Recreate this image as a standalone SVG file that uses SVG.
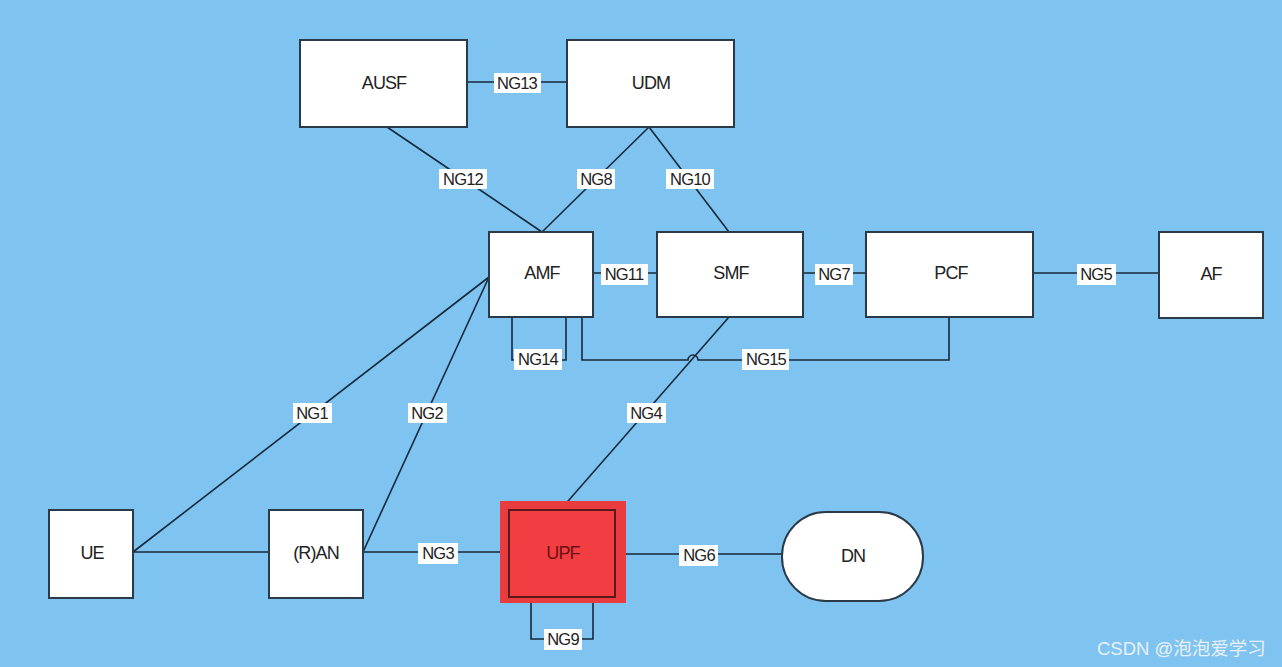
<svg xmlns="http://www.w3.org/2000/svg" width="1282" height="667" viewBox="0 0 1282 667">
<style>
.bg{fill:#7FC4F0}
.box{fill:#FFFFFF;stroke:#2B3A48;stroke-width:2}
.nt{font-family:"Liberation Sans",Arial,sans-serif;font-size:18px;fill:#222;text-anchor:middle;dominant-baseline:central;letter-spacing:-0.9px}
.ln{fill:none;stroke:#16283A;stroke-width:1.6}
.lb{fill:#FFFFFF}
.lt{font-family:"Liberation Sans",Arial,sans-serif;font-size:16.5px;fill:#222;text-anchor:middle;dominant-baseline:central;letter-spacing:-0.8px}
.wm{font-family:"Liberation Sans","Noto Sans CJK SC",sans-serif;font-size:18.5px;fill:#E8F0F6;text-anchor:start;dominant-baseline:central}
</style>
<rect class="bg" x="0" y="0" width="1282" height="667"/>

<g id="connectors">
<line class="ln" x1="467" y1="82" x2="567" y2="82"/>
<line class="ln" x1="387" y1="127" x2="542" y2="232"/>
<line class="ln" x1="649" y1="127" x2="542" y2="232"/>
<line class="ln" x1="649" y1="127" x2="729" y2="232"/>
<line class="ln" x1="593" y1="273" x2="657" y2="273"/>
<line class="ln" x1="803" y1="273" x2="866" y2="273"/>
<line class="ln" x1="1033" y1="273" x2="1159" y2="273"/>
<path class="ln" d="M512,317 V360 H566 V317"/>
<path class="ln" d="M582,317 V360 H688 A5,5 0 0 1 698,360 H949 V317"/>
<line class="ln" x1="133" y1="552" x2="489" y2="277"/>
<line class="ln" x1="363" y1="552" x2="489" y2="277"/>
<line class="ln" x1="133" y1="552" x2="269" y2="552"/>
<line class="ln" x1="363" y1="552" x2="509" y2="552"/>
<line class="ln" x1="729" y1="317" x2="562" y2="508"/>
<line class="ln" x1="615" y1="554" x2="782" y2="554"/>
<path class="ln" d="M531,597 V639 H593 V597"/>

<g id="labels">
<rect class="lb" x="494" y="73" width="47" height="20"/><text class="lt" x="517" y="83">NG13</text>
<rect class="lb" x="439" y="169" width="48" height="20"/><text class="lt" x="463" y="179">NG12</text>
<rect class="lb" x="577" y="169" width="38" height="20"/><text class="lt" x="596" y="179">NG8</text>
<rect class="lb" x="666" y="169" width="48" height="20"/><text class="lt" x="690" y="179">NG10</text>
<rect class="lb" x="601" y="264" width="47" height="21"/><text class="lt" x="624" y="274">NG11</text>
<rect class="lb" x="815" y="264" width="38" height="21"/><text class="lt" x="834" y="274">NG7</text>
<rect class="lb" x="1077" y="264" width="39" height="21"/><text class="lt" x="1096" y="274">NG5</text>
<rect class="lb" x="514" y="349" width="48" height="21"/><text class="lt" x="538" y="359">NG14</text>
<rect class="lb" x="742" y="349" width="47" height="21"/><text class="lt" x="766" y="359">NG15</text>
<rect class="lb" x="293" y="403" width="39" height="20"/><text class="lt" x="312" y="413">NG1</text>
<rect class="lb" x="408" y="403" width="39" height="20"/><text class="lt" x="427" y="413">NG2</text>
<rect class="lb" x="627" y="403" width="39" height="20"/><text class="lt" x="646" y="413">NG4</text>
<rect class="lb" x="418" y="543" width="40" height="21"/><text class="lt" x="438" y="553">NG3</text>
<rect class="lb" x="679" y="545" width="39" height="21"/><text class="lt" x="699" y="555">NG6</text>
<rect class="lb" x="544" y="629" width="38" height="21"/><text class="lt" x="563" y="639">NG9</text>
</g>
</g>

<g id="AUSF"><rect class="box" x="300" y="40" width="167" height="87"/><text class="nt" x="384" y="83">AUSF</text></g>
<g id="UDM"><rect class="box" x="567" y="40" width="167" height="87"/><text class="nt" x="651" y="83">UDM</text></g>
<g id="AMF"><rect class="box" x="489" y="232" width="104" height="85"/><text class="nt" x="542" y="273">AMF</text></g>
<g id="SMF"><rect class="box" x="657" y="232" width="146" height="85"/><text class="nt" x="731" y="273">SMF</text></g>
<g id="PCF"><rect class="box" x="866" y="232" width="167" height="85"/><text class="nt" x="951" y="273">PCF</text></g>
<g id="AF"><rect class="box" x="1159" y="232" width="104" height="86"/><text class="nt" x="1211" y="274">AF</text></g>
<g id="UE"><rect class="box" x="49" y="510" width="84" height="88"/><text class="nt" x="92" y="553">UE</text></g>
<g id="RAN"><rect class="box" x="269" y="510" width="94" height="88"/><text class="nt" x="316" y="553">(R)AN</text></g>
<g id="UPF">
<rect x="500" y="501" width="126" height="102" fill="#EA3B3E"/>
<rect x="509" y="510" width="106" height="87" fill="#F23E42" stroke="#5A1A1A" stroke-width="2"/>
<text class="nt" x="563" y="553" style="fill:#6A1212">UPF</text>
</g>
<g id="DN"><rect class="box" x="782" y="512" width="141" height="89" rx="44" ry="44"/><text class="nt" x="853" y="556">DN</text></g>

<text class="wm" x="1097" y="648">CSDN @泡泡爱学习</text>
</svg>
